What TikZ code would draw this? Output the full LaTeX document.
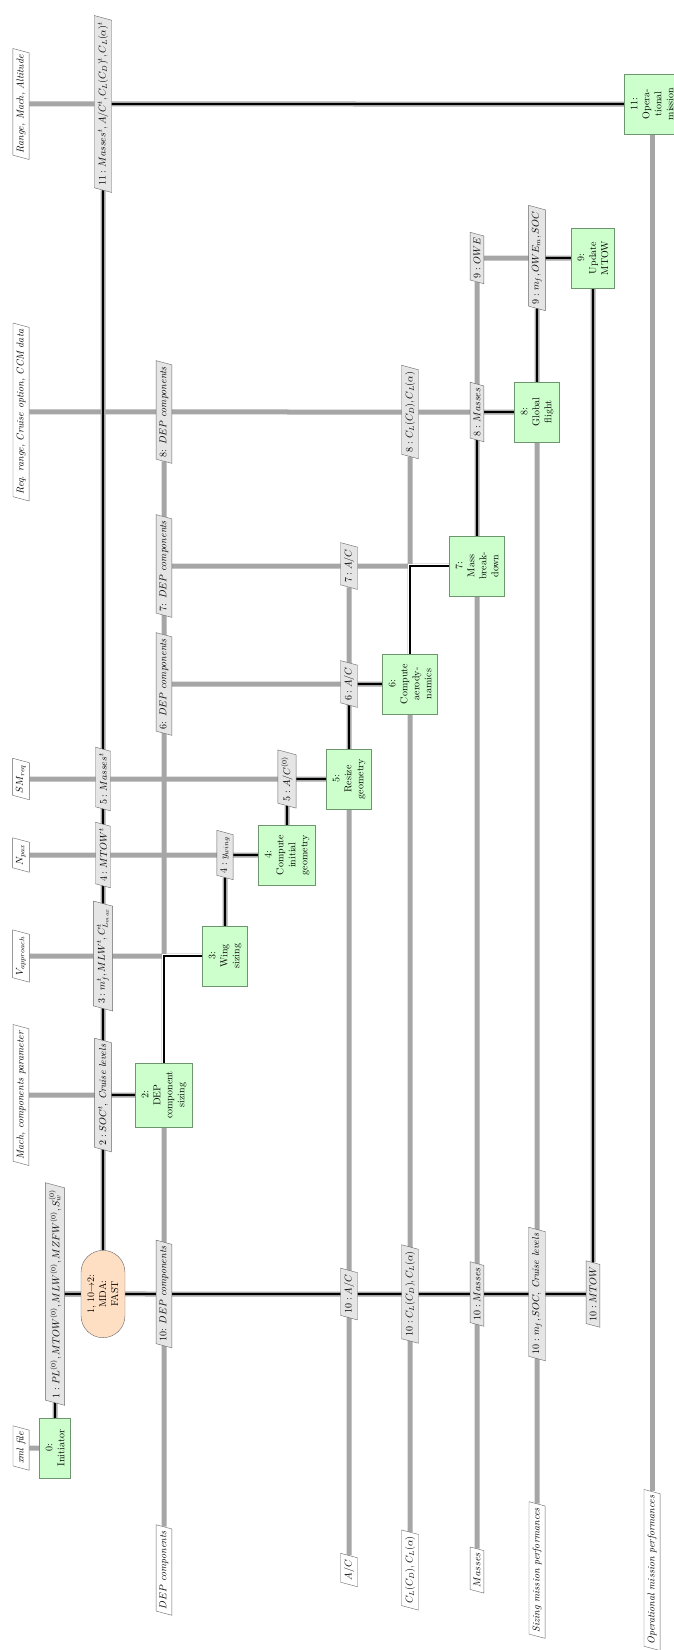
\documentclass[tikz,border=0pt]{standalone}
\usetikzlibrary{shapes.geometric,shapes.misc}
\definecolor{compfill}{RGB}{204,255,204}
\definecolor{compdraw}{RGB}{110,150,110}
\definecolor{mdafill}{RGB}{255,223,196}
\pgfdeclarelayer{data}
\pgfdeclarelayer{process}
\pgfsetlayers{data,process,main}
\tikzset{
  comp/.style={rectangle, draw=compdraw, fill=compfill, rotate=90, align=center,
    minimum width=60pt, inner xsep=8pt, inner ysep=6pt},
  mdabox/.style={rounded rectangle, draw=black!60, fill=mdafill, rotate=90, align=center,
    minimum width=94pt, minimum height=44pt},
  datalabel/.style={trapezium, trapezium left angle=75, trapezium right angle=105,
    draw=black!60, fill=black!10, rotate=90, inner xsep=2pt, inner ysep=3.5pt},
  iolabel/.style={datalabel, fill=white},
  dataline/.style={draw=black!35, line width=5pt},
  procline/.style={draw=black, line width=1.3pt},
  halo/.style={procline, preaction={draw=white, line width=5pt}}
}
\begin{document}
\begin{tikzpicture}[x=1pt, y=-1pt]
  \useasboundingbox (0,0) rectangle (673,1650);

  \node[comp] (init) at (55,1448) {0:\\Initiator};
  \node[mdabox] (mda) at (103,1294) {1, 10$\to$2:\\MDA:\\FAST};
  \node[comp] (b2) at (164,1095) {2:\\DEP\\component\\sizing};
  \node[comp] (b3) at (225,956) {3:\\Wing\\sizing};
  \node[comp] (b4) at (287,855) {4:\\Compute\\initial\\geometry};
  \node[comp] (b5) at (349,779) {5:\\Resize\\geometry};
  \node[comp] (b6) at (410,684) {6:\\Compute\\aerody-\\namics};
  \node[comp] (b7) at (477,566) {7:\\Mass\\break-\\down};
  \node[comp] (b8) at (537,412) {8:\\Global\\flight};
  \node[comp] (b9) at (593,258) {9:\\Update\\MTOW};
  \node[comp] (b11) at (652,104) {11:\\Opera-\\tional\\mission};

  \node[iolabel] (in_xml) at (21,1448) {\textit{xml file}};
  \node[iolabel] (in_mach) at (21,1095) {\textit{Mach, components parameter}};
  \node[iolabel] (in_vapp) at (21,956) {$V_{approach}$};
  \node[iolabel] (in_npax) at (21,855) {$N_{pax}$};
  \node[iolabel] (in_smreq) at (21,779) {$SM_{req}$};
  \node[iolabel] (in_req) at (21,412) {\textit{Req. range, Cruise option, CCM data}};
  \node[iolabel] (in_range) at (21,104) {\textit{Range, Mach, Altitude}};

  \node[datalabel] (l1) at (55,1294) {$1: PL^{(0)}, MTOW^{(0)}, MLW^{(0)}, MZFW^{(0)}, S_w^{(0)}$};
  \node[datalabel] (l2) at (103,1095) {$2: SOC^t$, \textit{Cruise levels}};
  \node[datalabel] (l3) at (103,956) {$3: m_f^t, MLW^t, C_{L_{max}}^t$};
  \node[datalabel] (l4) at (103,855) {$4: MTOW^t$};
  \node[datalabel] (l5) at (103,779) {$5: Masses^t$};
  \node[datalabel] (l11) at (103,104) {$11: Masses^t, A/C^t, C_L(C_D)^t, C_L(\alpha)^t$};
  \node[datalabel] (l10dep) at (164,1294) {10: $DEP$ \textit{components}};
  \node[datalabel] (l6dep) at (164,684) {6: $DEP$ \textit{components}};
  \node[datalabel] (l7dep) at (164,566) {7: $DEP$ \textit{components}};
  \node[datalabel] (l8dep) at (164,412) {8: $DEP$ \textit{components}};
  \node[datalabel] (l4y) at (225,855) {$4: y_{wing}$};
  \node[datalabel] (l5ac) at (287,779) {$5: A/C^{(0)}$};
  \node[datalabel] (l6ac) at (349,684) {$6: A/C$};
  \node[datalabel] (l7ac) at (349,566) {$7: A/C$};
  \node[datalabel] (l10ac) at (349,1294) {$10: A/C$};
  \node[datalabel] (l8cl) at (410,412) {$8: C_L(C_D), C_L(\alpha)$};
  \node[datalabel] (l10cl) at (410,1294) {$10: C_L(C_D), C_L(\alpha)$};
  \node[datalabel] (l8masses) at (477,412) {$8: Masses$};
  \node[datalabel] (l9owe) at (477,258) {$9: OWE$};
  \node[datalabel] (l10masses) at (477,1294) {$10: Masses$};
  \node[datalabel] (l9) at (537,258) {$9: m_f, OWE_m, SOC$};
  \node[datalabel] (l10mf) at (537,1294) {$10: m_f, SOC$, \textit{Cruise levels}};
  \node[datalabel] (l10mtow) at (593,1294) {$10: MTOW$};

  \node[iolabel] (out_dep) at (164,1570) {$DEP$ \textit{components}};
  \node[iolabel] (out_ac) at (349,1570) {$A/C$};
  \node[iolabel] (out_cl) at (410,1570) {$C_L(C_D), C_L(\alpha)$};
  \node[iolabel] (out_masses) at (477,1570) {$Masses$};
  \node[iolabel] (out_sizing) at (537,1570) {\textit{Sizing mission performances}};
  \node[iolabel] (out_oper) at (652,1570) {\textit{Operational mission performances}};

  \begin{pgfonlayer}{data}
    \draw[dataline] (in_xml) -- (init);
    \draw[dataline] (init) -- (l1) -- (mda);
    \draw[dataline] (l1) -- (l10mtow);
    \draw[dataline] (mda) -- (l11);
    \draw[dataline] (b9) -- (l10mtow);
    \draw[dataline] (in_mach) -- (b2);
    \draw[dataline] (in_vapp) -- (b3);
    \draw[dataline] (in_npax) -- (b4);
    \draw[dataline] (in_smreq) -- (b5);
    \draw[dataline] (l6dep) -- (b6);
    \draw[dataline] (l7dep) -- (b7);
    \draw[dataline] (in_req) -- (b8);
    \draw[dataline] (l9owe) -- (b9);
    \draw[dataline] (in_range) -- (b11);
    \draw[dataline] (b3) -- (l4y);
    \draw[dataline] (b4) -- (l5ac);
    \draw[dataline] (l8dep) -- (out_dep);
    \draw[dataline] (l7ac) -- (out_ac);
    \draw[dataline] (l8cl) -- (out_cl);
    \draw[dataline] (l9owe) -- (out_masses);
    \draw[dataline] (l9) -- (out_sizing);
    \draw[dataline] (b11) -- (out_oper);
  \end{pgfonlayer}

  \begin{pgfonlayer}{process}
    \draw[procline] (init) |- (mda);
    \draw[procline] (mda) |- (b2);
    \draw[halo] (b2) |- (b3);
    \draw[procline] (b3) |- (b4);
    \draw[procline] (b4) |- (b5);
    \draw[procline] (b5) |- (b6);
    \draw[halo] (b6) |- (b7);
    \draw[procline] (b7) |- (b8);
    \draw[procline] (b8) |- (b9);
    \draw[procline] (b9) |- (mda);
    \draw[procline] (mda) |- (b11);
  \end{pgfonlayer}
\end{tikzpicture}
\end{document}
